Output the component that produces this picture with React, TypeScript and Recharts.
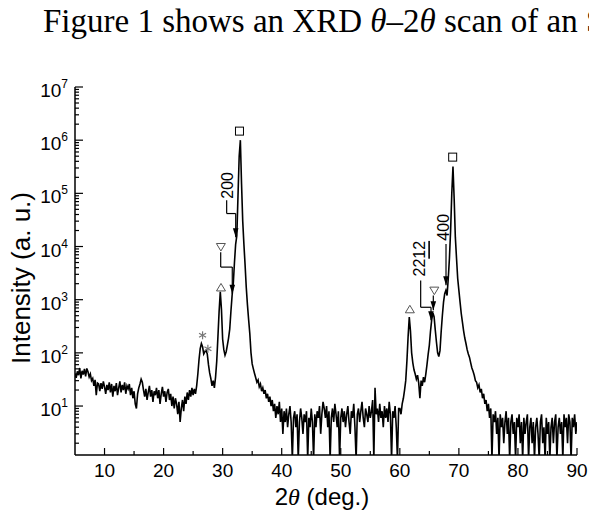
import React from 'react';
import { LineChart, Line, XAxis, YAxis, ReferenceLine, ReferenceDot } from 'recharts';

// XRD scan, start angle / step as stored by the diffractometer
const angleStart = 5;
const angleStep = 0.2;

// counts, 10 per row = 2 deg per row, first row starts at 5.0 deg
const counts = [
  40, 34, 45, 38, 52, 33, 46, 39, 50, 36, // 5
  51, 44, 35, 40, 30, 33, 24, 31, 16, 27, // 7
  26, 19, 27, 21, 29, 23, 17, 25, 20, 28, // 9
  18, 26, 15, 24, 19, 27, 16, 22, 29, 18, // 11
  25, 20, 28, 17, 24, 21, 26, 16, 22, 14, // 13
  19, 11, 9, 17, 22, 26, 32, 28, 20, 15, // 15
  21, 13, 18, 24, 15, 20, 12, 19, 16, 22, // 17
  14, 20, 11, 17, 23, 15, 19, 12, 18, 21, // 19
  13, 17, 10, 15, 9, 14, 11, 7, 12, 5, // 21
  9, 13, 8, 15, 11, 18, 13, 20, 15, 22, // 23
  16, 21, 17, 24, 40, 75, 120, 150, 130, 95, // 25
  105, 112, 95, 60, 42, 33, 24, 30, 22, 35, // 27
  70, 200, 600, 1400, 650, 180, 115, 90, 105, 140, // 29
  190, 280, 600, 1200, 2000, 5000, 11000, 16000, 90000, 500000, // 31
  1000000, 150000, 30000, 11000, 4500, 1700, 800, 420, 230, 100, // 33
  62, 50, 41, 34, 28, 31, 23, 26, 19, 22, // 35
  17, 20, 14, 17, 12, 15, 10, 13, 8, 11, // 37
  6, 10, 7, 12, 5, 9, 3, 8, 5, 9, // 39
  4, 7, 10, 5, 1, 6, 8, 4, 7, 1, // 41
  5, 9, 6, 3, 7, 5, 8, 1, 6, 4, // 43
  9, 5, 1, 7, 4, 8, 6, 10, 3, 7, // 45
  12, 9, 6, 10, 4, 8, 1, 6, 9, 5, // 47
  11, 7, 4, 8, 1, 6, 9, 5, 8, 4, // 49
  7, 10, 5, 3, 8, 6, 11, 4, 1, 7, // 51
  9, 5, 8, 12, 6, 4, 9, 7, 5, 10, // 53
  6, 8, 13, 1, 22, 7, 9, 5, 11, 6, // 55
  8, 4, 10, 6, 9, 5, 12, 7, 1, 8, // 57
  6, 10, 4, 1, 9, 9, 7, 11, 14, 20, // 59
  30, 70, 200, 470, 260, 100, 65, 48, 40, 32, // 61
  38, 27, 14, 30, 24, 35, 28, 40, 60, 95, // 63
  140, 260, 420, 560, 480, 270, 160, 100, 85, 110, // 65
  250, 500, 900, 1300, 1500, 1200, 2500, 6000, 20000, 100000, // 67
  320000, 80000, 15000, 6000, 2500, 1500, 900, 550, 380, 260, // 69
  190, 150, 115, 95, 82, 65, 52, 45, 38, 30, // 71
  28, 22, 25, 18, 21, 14, 17, 11, 13, 8, // 73
  11, 6, 9, 1, 7, 5, 8, 3, 6, 1, // 75
  7, 4, 6, 2, 5, 8, 3, 6, 1, 5, // 77
  7, 3, 5, 1, 6, 4, 7, 2, 5, 1, // 79
  6, 3, 5, 7, 1, 4, 6, 2, 5, 1, // 81
  4, 6, 3, 1, 5, 7, 2, 4, 1, 6, // 83
  3, 5, 1, 4, 6, 2, 5, 7, 1, 4, // 85
  6, 3, 5, 1, 7, 4, 6, 2, 7, 5, // 87
  1, 6, 4, 7, 3, 5, // 89
];

const xMajorTicks = [10, 20, 30, 40, 50, 60, 70, 80, 90];
const xMinorTicks = [15, 25, 35, 45, 55, 65, 75, 85];
const yMajorTicks = [10, 100, 1e3, 1e4, 1e5, 1e6, 1e7];
const yMinorSteps = [2, 3, 4, 5, 6, 7, 8, 9];
const yDecades = [1, 10, 100, 1e3, 1e4, 1e5, 1e6];

// phase markers
const squareMarks = [
  { angle: 32.85, counts: 1.48e6 },
  { angle: 68.95, counts: 4.8e5 },
];
const downTriMarks = [
  { angle: 29.7, counts: 9.8e3 },
  { angle: 65.84, counts: 1.48e3 },
];
const upTriMarks = [
  { angle: 29.72, counts: 1.7e3 },
  { angle: 61.7, counts: 660 },
];
const starMarks = [
  { angle: 26.6, counts: 214 },
  { angle: 27.5, counts: 120 },
];

const peakLabels = [
  { text: '200', under: '', angle: 30.75, counts: 1.41e5 },
  { text: '22', under: '12', angle: 63.3, counts: 5.9e3 },
  { text: '400', under: '', angle: 67.4, counts: 2.3e4 },
];

// bracket pointers, [angle, counts], arrow at the last point
const pointers = [
  [[30.68, 7.4e4], [30.68, 4.17e4], [32.21, 4.17e4], [32.21, 1.5e4]],
  [[29.67, 7.8e3], [29.67, 4.1e3], [31.63, 4.1e3], [31.63, 1.3e3]],
  [[63.53, 2.3e3], [63.53, 720], [65.28, 720], [65.28, 410]],
  [[65.67, 1.2e3], [65.67, 630]],
  [[67.82, 1.12e4], [67.82, 1.86e3]],
];

const scanData = counts.map((c, i) => ({
  angle: Math.round((angleStart + i * angleStep) * 10) / 10,
  counts: c,
}));
const yMinorTicks = yDecades.flatMap((d) => yMinorSteps.map((s) => s * d));
const yTicks = [...yMinorTicks, ...yMajorTicks].filter((v) => v >= 1.2 && v <= 1e7);
const xTicks = [...xMajorTicks, ...xMinorTicks];

const sans = "'Liberation Sans', Arial, sans-serif";
const serif = "'Liberation Serif', 'Times New Roman', serif";
const markGray = '#555';

const LeftTick = ({ x, y, payload }: any) => {
  const v = payload.value;
  const major = yMajorTicks.includes(v);
  return (
    <g>
      <line x1={x} y1={y} x2={x + (major ? 8 : 4)} y2={y} stroke="#000" strokeWidth={1.2} />
      {major && (
        <text x={x - 7} y={y + 10} textAnchor="end" fontSize={19} fontFamily={sans} fill="#000">
          10
          <tspan dy={-9} fontSize={12}>
            {Math.round(Math.log10(v))}
          </tspan>
        </text>
      )}
    </g>
  );
};

const RightTick = ({ x, y, payload }: any) => {
  const major = yMajorTicks.includes(payload.value);
  return <line x1={x} y1={y} x2={x - (major ? 8 : 4)} y2={y} stroke="#000" strokeWidth={1.2} />;
};

const BottomTick = ({ x, y, payload }: any) => {
  const v = payload.value;
  const major = xMajorTicks.includes(v);
  return (
    <g>
      <line x1={x} y1={y} x2={x} y2={y - (major ? 7 : 4)} stroke="#000" strokeWidth={1.2} />
      {major && (
        <text x={x} y={y + 22} textAnchor="middle" fontSize={19} fontFamily={sans} fill="#000">
          {v}
        </text>
      )}
    </g>
  );
};

const TopTick = ({ x, y, payload }: any) => {
  const major = xMajorTicks.includes(payload.value);
  return <line x1={x} y1={y} x2={x} y2={y + (major ? 7 : 4)} stroke="#000" strokeWidth={1.2} />;
};

const Square = ({ cx, cy }: any) => (
  <rect x={cx - 4} y={cy - 4} width={8} height={8} fill="#fff" stroke="#000" strokeWidth={1} />
);
const DownTri = ({ cx, cy }: any) => (
  <path d={`M${cx - 4.5},${cy - 3.5}L${cx + 4.5},${cy - 3.5}L${cx},${cy + 4}Z`} fill="#fff" stroke={markGray} strokeWidth={1} />
);
const UpTri = ({ cx, cy }: any) => (
  <path d={`M${cx - 4.5},${cy + 3.5}L${cx + 4.5},${cy + 3.5}L${cx},${cy - 4}Z`} fill="#fff" stroke={markGray} strokeWidth={1} />
);
const Star = ({ cx, cy }: any) => (
  <g stroke="#777" strokeWidth={1.2}>
    <line x1={cx} y1={cy - 4} x2={cx} y2={cy + 4} />
    <line x1={cx - 3.5} y1={cy - 2} x2={cx + 3.5} y2={cy + 2} />
    <line x1={cx - 3.5} y1={cy + 2} x2={cx + 3.5} y2={cy - 2} />
  </g>
);
const ArrowHead = ({ cx, cy }: any) => (
  <path d={`M${cx},${cy}L${cx - 2.8},${cy - 9}L${cx + 2.8},${cy - 9}Z`} fill="#000" />
);
const makeLabel = (text: string, under: string) => ({ cx, cy }: any) => (
  <text
    x={cx}
    y={cy}
    transform={`rotate(-90 ${cx} ${cy})`}
    textAnchor="middle"
    dominantBaseline="central"
    fontSize={16}
    fontFamily={sans}
    fill="#000"
  >
    {text}
    {under && <tspan style={{ textDecoration: 'underline' }}>{under}</tspan>}
  </text>
);

export default function App() {
  return (
    <div style={{ position: 'absolute', left: 0, top: 0, width: 589, height: 515, overflow: 'hidden', background: '#fff' }}>
      <div
        style={{
          position: 'absolute',
          left: 43,
          top: 5,
          fontFamily: serif,
          fontSize: 33,
          lineHeight: '33px',
          whiteSpace: 'nowrap',
          color: '#000',
        }}
      >
        Figure 1 shows an XRD <i>θ</i>–2<i>θ</i> scan of an S
      </div>
      <div style={{ position: 'absolute', left: 0, top: 0 }}>
        <LineChart width={589} height={515} data={scanData} margin={{ top: 87, right: 12, bottom: 0, left: 0 }}>
          <XAxis
            dataKey="angle"
            type="number"
            domain={[5, 90]}
            ticks={xTicks}
            interval={0}
            tick={BottomTick}
            tickLine={false}
            tickSize={0}
            tickMargin={0}
            height={60}
            axisLine={{ stroke: '#000', strokeWidth: 1.5 }}
            allowDataOverflow
          />
          <XAxis
            xAxisId="top"
            orientation="top"
            dataKey="angle"
            type="number"
            domain={[5, 90]}
            ticks={xTicks}
            interval={0}
            tick={TopTick}
            tickLine={false}
            tickSize={0}
            tickMargin={0}
            height={0}
            axisLine={{ stroke: '#000', strokeWidth: 1.5 }}
            allowDataOverflow
          />
          <YAxis
            scale="log"
            type="number"
            domain={[1.2, 1e7]}
            ticks={yTicks}
            interval={0}
            tick={LeftTick}
            tickLine={false}
            tickSize={0}
            tickMargin={0}
            width={75}
            axisLine={{ stroke: '#000', strokeWidth: 1.5 }}
            allowDataOverflow
          />
          <YAxis
            yAxisId="right"
            orientation="right"
            scale="log"
            type="number"
            domain={[1.2, 1e7]}
            ticks={yTicks}
            interval={0}
            tick={RightTick}
            tickLine={false}
            tickSize={0}
            tickMargin={0}
            width={0}
            axisLine={{ stroke: '#000', strokeWidth: 1.5 }}
            allowDataOverflow
          />
          <Line
            type="linear"
            dataKey="counts"
            stroke="#000"
            strokeWidth={1.6}
            dot={false}
            isAnimationActive={false}
          />
          {pointers.flatMap((pts, i) =>
            pts.slice(1).map((p, j) => (
              <ReferenceLine
                key={`seg-${i}-${j}`}
                segment={[
                  { x: pts[j][0], y: pts[j][1] },
                  { x: p[0], y: p[1] },
                ]}
                stroke="#000"
                strokeWidth={1.2}
              />
            ))
          )}
          {pointers.map((pts, i) => {
            const tip = pts[pts.length - 1];
            return <ReferenceDot key={`tip-${i}`} x={tip[0]} y={tip[1]} shape={ArrowHead} ifOverflow="visible" />;
          })}
          {squareMarks.map((m, i) => (
            <ReferenceDot key={`sq-${i}`} x={m.angle} y={m.counts} shape={Square} ifOverflow="visible" />
          ))}
          {downTriMarks.map((m, i) => (
            <ReferenceDot key={`dt-${i}`} x={m.angle} y={m.counts} shape={DownTri} ifOverflow="visible" />
          ))}
          {upTriMarks.map((m, i) => (
            <ReferenceDot key={`ut-${i}`} x={m.angle} y={m.counts} shape={UpTri} ifOverflow="visible" />
          ))}
          {starMarks.map((m, i) => (
            <ReferenceDot key={`st-${i}`} x={m.angle} y={m.counts} shape={Star} ifOverflow="visible" />
          ))}
          {peakLabels.map((l, i) => (
            <ReferenceDot key={`lb-${i}`} x={l.angle} y={l.counts} shape={makeLabel(l.text, l.under)} ifOverflow="visible" />
          ))}
        </LineChart>
      </div>
      <svg width={589} height={515} style={{ position: 'absolute', left: 0, top: 0, pointerEvents: 'none' }}>
        <text
          x={30}
          y={278}
          transform="rotate(-90 30 278)"
          textAnchor="middle"
          fontSize={26}
          fontFamily={sans}
          fill="#000"
        >
          Intensity (a. u.)
        </text>
        <text x={322} y={505} textAnchor="middle" fontSize={24} fontFamily={sans} fill="#000">
          2
          <tspan fontFamily={serif} fontStyle="italic">θ</tspan> (deg.)
        </text>
      </svg>
    </div>
  );
}
